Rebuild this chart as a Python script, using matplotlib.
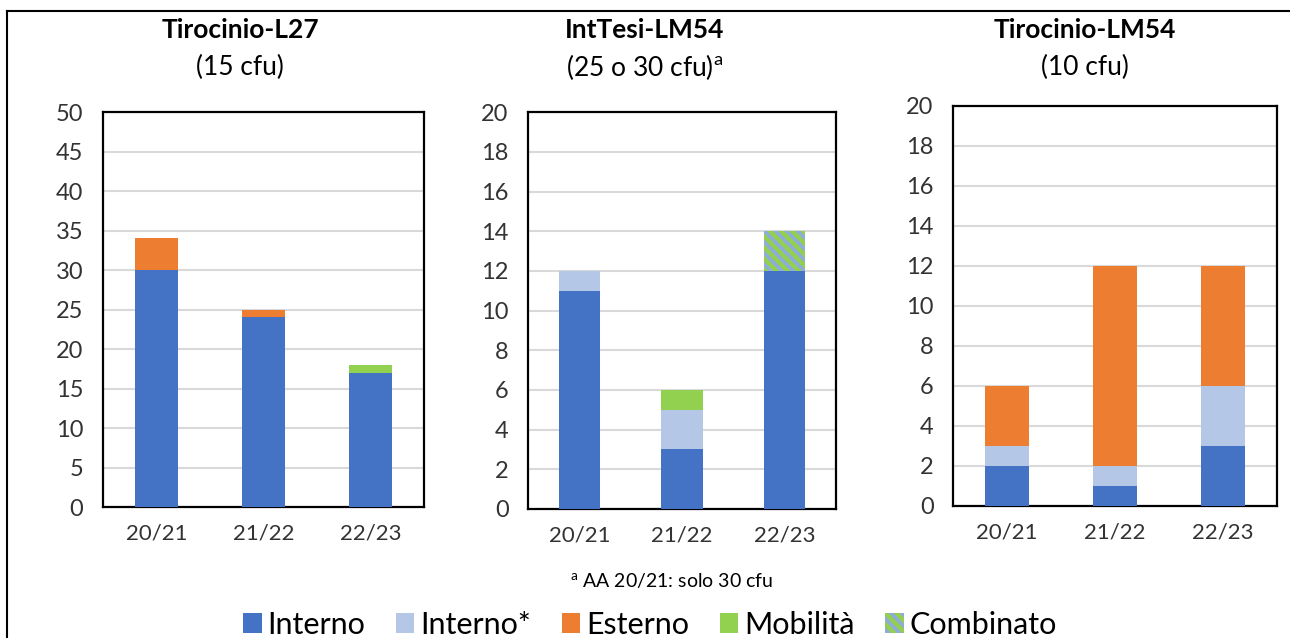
import numpy as np
import matplotlib
matplotlib.use("Agg")
import matplotlib.pyplot as plt
from matplotlib.lines import Line2D

plt.rcParams['font.family'] = ['Lato', 'DejaVu Sans']
plt.rcParams['hatch.linewidth'] = 2.5

# anni accademici
anni = ['20/21', '21/22', '22/23']

# Tirocinio-L27
l27_interno = [30, 24, 17]
l27_interno_star = [0, 0, 0]
l27_esterno = [4, 1, 0]
l27_mobilita = [0, 0, 1]
l27_combinato = [0, 0, 0]

# IntTesi-LM54
tesi_interno = [11, 3, 12]
tesi_interno_star = [1, 2, 0]
tesi_esterno = [0, 0, 0]
tesi_mobilita = [0, 1, 0]
tesi_combinato = [0, 0, 2]

# Tirocinio-LM54
lm54_interno = [2, 1, 3]
lm54_interno_star = [1, 1, 3]
lm54_esterno = [3, 10, 6]
lm54_mobilita = [0, 0, 0]
lm54_combinato = [0, 0, 0]

categorie = ['Interno', 'Interno*', 'Esterno', 'Mobilità', 'Combinato']
colori = ['#4472C4', '#B4C7E7', '#ED7D31', '#92D050', '#92D050']

titoli = ['Tirocinio-L27', 'IntTesi-LM54', 'Tirocinio-LM54']
sottotitoli = ['(15 cfu)', r'(25 o 30 cfu)$^{\mathregular{a}}$', '(10 cfu)']
y_max = [50, 20, 20]
y_step = [5, 2, 2]

pannelli = [
    [l27_interno, l27_interno_star, l27_esterno, l27_mobilita, l27_combinato],
    [tesi_interno, tesi_interno_star, tesi_esterno, tesi_mobilita, tesi_combinato],
    [lm54_interno, lm54_interno_star, lm54_esterno, lm54_mobilita, lm54_combinato],
]

# posizioni degli assi (frazioni della figura)
posizioni = [
    [0.0798, 0.2053, 0.2488, 0.619],
    [0.4093, 0.2022, 0.2388, 0.622],
    [0.7388, 0.2069, 0.2512, 0.627],
]
centri_titolo = [0.186, 0.50, 0.841]

fig = plt.figure(figsize=(12.9, 6.38), dpi=100)

handles = {}
for i, serie in enumerate(pannelli):
    ax = fig.add_axes(posizioni[i])
    x = np.arange(len(anni))
    base = np.zeros(len(anni))
    for nome, valori, col in zip(categorie, serie, colori):
        valori = np.array(valori, dtype=float)
        if nome == 'Combinato':
            b = ax.bar(x, valori, 0.4, bottom=base, color=col, edgecolor='#8FAADC',
                       linewidth=0, hatch='\\\\\\', zorder=3)
        else:
            b = ax.bar(x, valori, 0.4, bottom=base, color=col, linewidth=0, zorder=3)
        if nome not in handles:
            handles[nome] = b
        base = base + valori

    ax.set_xlim(-0.5, 2.5)
    ax.set_ylim(0, y_max[i])
    ax.set_yticks(np.arange(0, y_max[i] + 1, y_step[i]))
    ax.set_xticks(x)
    ax.set_xticklabels(anni)
    ax.tick_params(axis='both', length=0, labelsize=17, colors='#333333')
    ax.tick_params(axis='x', labelsize=16)
    ax.tick_params(axis='y', pad=14)
    ax.tick_params(axis='x', pad=12)
    ax.yaxis.grid(True, color='#D9D9D9', linewidth=1.5, zorder=0)
    ax.set_axisbelow(True)
    for sp in ax.spines.values():
        sp.set_linewidth(1.6)
        sp.set_color('black')

    fig.text(centri_titolo[i], 0.953, titoli[i], ha='center', va='center',
             fontsize=19, fontweight='bold')
    fig.text(centri_titolo[i], 0.895, sottotitoli[i], ha='center', va='center',
             fontsize=19)

# nota a pie' di pagina
fig.text(0.521, 0.089, r'$^{\mathregular{a}}$ AA 20/21: solo 30 cfu', ha='center',
         va='center', fontsize=14)

# legenda
fig.legend([handles[c] for c in categorie], categorie, loc='center',
           bbox_to_anchor=(0.504, 0.021), ncol=5, frameon=False, fontsize=22,
           handlelength=0.6, handleheight=0.6, handletextpad=0.2, columnspacing=1.0)

# cornice esterna
fig.add_artist(Line2D([0.0054, 0.0054], [0, 0.983], color='black', linewidth=1.5,
                      transform=fig.transFigure))
fig.add_artist(Line2D([0.0054, 1.0], [0.983, 0.983], color='black', linewidth=1.5,
                      transform=fig.transFigure))

fig.savefig('out.png', dpi=100)
